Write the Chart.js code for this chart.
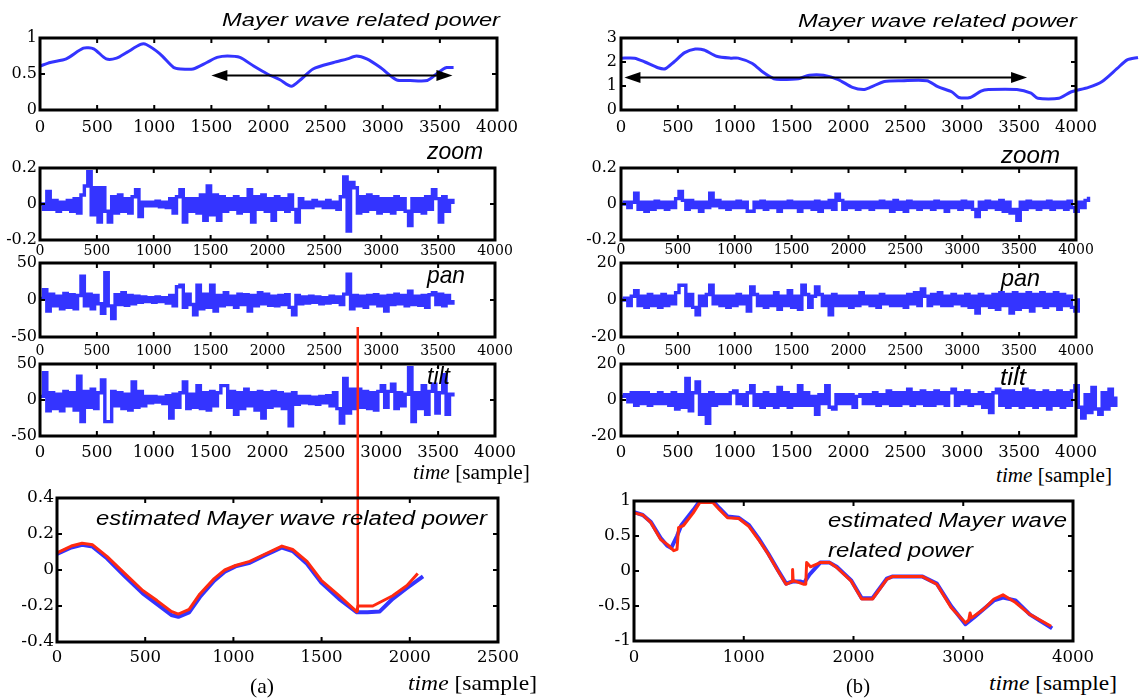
<!DOCTYPE html>
<html><head><meta charset="utf-8">
<script src="https://cdn.jsdelivr.net/npm/chart.js"></script>
<style>
html,body{margin:0;padding:0;background:#fff;}
body{width:1141px;height:699px;position:relative;overflow:hidden;}
canvas{position:absolute;}
.t{position:absolute;white-space:nowrap;transform-origin:0 0;color:#000;z-index:5;}
.sans{font-family:"Liberation Sans",Arial,sans-serif;font-style:italic;}
.serif{font-family:"Liberation Serif","Times New Roman",serif;}
</style></head><body>
<script>
// ---------------- DATA ----------------
const STEP = 30; // sample spacing of the noisy series

// (a) Mayer wave related power
const a1X = [0,90,230,380,470,580,670,760,880,930,1050,1170,1230,1340,1460,1550,1640,1750,1870,1990,2100,2200,2280,2390,2570,2690,2770,2860,2980,3120,3240,3390,3470,3530,3560,3620];
const a1Y = [0.61,0.66,0.71,0.86,0.85,0.71,0.72,0.80,0.91,0.91,0.78,0.59,0.57,0.57,0.66,0.73,0.75,0.73,0.61,0.50,0.42,0.33,0.42,0.57,0.66,0.71,0.75,0.71,0.59,0.42,0.41,0.41,0.50,0.57,0.59,0.59];
const a1Arrow = {x1:1500, x2:3610, y:0.48};

// (b) Mayer wave related power
const b1X = [0,120,210,325,390,465,560,653,730,840,965,1030,1155,1250,1345,1405,1560,1655,1780,1910,2035,2130,2190,2315,2470,2690,2785,2910,2970,3070,3165,3230,3480,3605,3665,3850,3955,4110,4230,4360,4450,4545];
const b1Y = [2.16,2.16,2.0,1.76,1.72,2.0,2.39,2.54,2.5,2.24,2.16,2.16,1.94,1.57,1.3,1.27,1.3,1.45,1.45,1.27,0.94,0.85,0.94,1.19,1.22,1.22,0.97,0.75,0.52,0.52,0.79,0.85,0.85,0.7,0.49,0.49,0.75,0.94,1.19,1.72,2.09,2.19];
const b1Arrow = {x1:30, x2:3570, y:1.35};

// (a) zoom / pan / tilt
const a2Zoom = [0.00,-0.03,0.07,-0.03,0.02,-0.04,0.01,-0.03,0.02,-0.04,
 0.03,-0.05,0.05,0.10,0.18,-0.06,0.09,-0.10,0.09,-0.04,
 -0.10,0.04,-0.05,0.05,-0.04,0.03,-0.05,0.04,0.08,-0.07,
 0.01,-0.01,0.01,-0.01,0.015,-0.015,0.01,-0.02,
 0.03,-0.05,0.04,0.08,-0.10,0.03,-0.04,
 0.03,-0.05,0.05,-0.09,0.10,-0.06,0.05,-0.09,0.04,-0.04,0.03,
 -0.03,0.04,-0.05,0.03,-0.04,0.08,-0.10,0.04,
 -0.03,0.05,-0.04,0.03,-0.09,0.04,-0.03,
 0.03,-0.04,0.05,-0.03,-0.10,0.03,
 -0.02,0.01,-0.02,0.02,-0.01,0.01,-0.02,0.02,-0.02,0.01,-0.03,
 0.04,0.15,-0.15,0.12,0.09,
 -0.05,0.04,-0.04,0.05,-0.03,0.04,-0.05,0.03,
 -0.04,0.03,-0.05,0.04,-0.03,0.03,-0.04,-0.12,0.03,-0.04,
 0.03,-0.05,0.04,-0.03,0.08,0.03,-0.10,0.04,-0.04,0.02,0.00];
const a3Pan = [2,14,-15,8,-8,5,-12,9,-10,7,
 -12,6,32,-8,8,-12,6,-5,-18,37,
 -8,-25,7,-6,10,-7,6,-5,5,-3,
 4,-2,3,-3,4,-2,3,-4,
 6,-8,18,20,-10,8,-6,
 -20,20,-12,8,-10,20,-15,6,-8,10,-6,
 5,-10,8,-6,7,-15,6,-8,
 10,-5,8,-7,5,-8,6,
 -6,7,-10,-20,6,-5,
 4,-4,5,-3,4,-5,3,-4,5,-3,4,
 -6,8,35,-12,6,
 -8,5,-10,6,-5,7,-8,5,
 -15,6,-6,8,-5,6,-8,12,-6,5,
 -7,6,-10,7,10,-6,8,-8,6,-4,0];
const a4Tilt = [5,38,-15,10,-12,8,-15,12,-8,10,
 -14,33,-30,12,-10,15,-12,10,28,-30,
 -30,12,-8,10,-12,8,-14,25,-10,12,
 -8,5,-4,5,-3,4,-5,6,
 -25,8,-10,10,25,-12,8,-10,
 20,-12,10,-14,12,-8,10,20,20,-10,
 12,-20,10,-12,15,-8,10,-14,12,
 -25,10,-10,12,-8,10,-12,8,-36,10,
 -6,5,-4,5,-5,4,-6,5,-4,6,-8,10,-12,
 -32,30,-18,15,-12,15,-10,12,-12,10,-14,12,
 20,-10,12,22,-12,10,-8,8,45,-30,
 10,-12,20,-20,12,22,-18,10,35,-20,8,5];

// (b) zoom / pan / tilt
const b2Zoom = [0.00,0.01,-0.02,0.01,0.06,-0.03,0.01,-0.04,0.01,-0.03,
 0.015,-0.02,0.01,-0.03,0.01,-0.02,0.03,0.07,0.02,-0.03,
 0.02,-0.02,0.01,-0.04,0.01,-0.02,0.06,-0.01,0.02,-0.02,
 0.01,-0.03,0.01,-0.02,0.015,-0.02,0.01,-0.04,-0.04,0.01,
 -0.02,0.015,-0.03,0.01,-0.02,0.01,-0.04,0.01,-0.02,0.015,
 -0.02,0.01,-0.04,0.01,-0.02,0.01,-0.03,0.015,-0.04,0.01,
 -0.02,0.02,-0.03,0.055,0.02,-0.03,0.01,-0.02,0.01,-0.03,
 0.01,-0.02,0.01,-0.03,0.01,-0.02,0.015,-0.02,0.01,-0.04,
 0.02,-0.03,0.01,-0.04,0.015,-0.02,0.01,-0.03,0.01,-0.02,
 0.01,-0.03,0.015,-0.02,0.01,-0.04,0.01,-0.02,0.01,-0.03,
 0.015,-0.02,0.01,-0.03,-0.07,0.01,-0.03,0.015,-0.02,0.01,
 -0.03,0.02,-0.04,0.01,-0.05,-0.03,-0.09,0.01,-0.03,0.015,
 -0.02,0.01,-0.03,0.01,-0.02,0.015,-0.03,0.01,-0.02,0.01,
 -0.03,0.015,-0.02,-0.04,0.01,-0.02,0.02,0.04];
const b3Pan = [0,1,-3,2,5,-3,2,-4,3,-3,
 2,-4,3,-3,2,-2,4,8,8,-3,
 3,-4,-8,2,-3,3,8,-2,2,-3,
 2,-4,2,-3,3,-2,2,-6,7,3,
 -3,2,-4,2,-3,4,-5,2,-3,5,
 -4,2,-5,8,3,-4,2,7,3,-3,
 2,-8,3,-3,2,-3,2,-4,2,-3,
 4,-2,2,-3,2,-4,3,-2,2,-3,
 2,-3,2,-4,3,-2,4,-3,6,2,
 -3,3,-2,4,-3,2,-3,3,-2,2,
 -3,3,-4,2,-7,3,-3,2,-4,3,
 -5,4,-3,3,-7,4,-5,3,-4,4,
 -6,3,-3,4,-4,3,-3,4,-5,3,
 -3,2,-4,-6,1];
const b4Tilt = [2,3,-1,4,-3,4,-2,4,-3,3,
 -2,4,-2,3,-3,4,-5,3,-4,12,
 -6,4,10,-8,3,-13,4,-3,3,-2,
 3,-2,4,5,-2,3,-3,4,8,-3,
 3,-4,4,-3,3,-4,7,-3,4,-4,
 3,-3,8,-3,4,-3,2,-8,3,-2,
 8,-4,-5,3,-2,3,-2,3,-4,2,
 3,-2,3,-2,4,-3,3,-2,5,-3,
 4,-3,4,-2,6,-3,4,-2,5,-3,
 4,-3,5,-2,4,-3,4,6,-3,4,
 -2,5,-3,3,-2,4,-4,3,-7,4,
 6,-3,5,-4,5,-3,4,-4,6,-3,
 5,-4,4,-3,5,-5,4,-3,5,-4,
 4,-3,5,8,-4,-10,3,-7,7,-5,
 -8,4,-5,6,-3,2];

// (a) estimated Mayer wave related power
const a5RedX  = [0,81,142,202,283,385,486,567,648,688,749,810,891,951,1012,1093,1174,1275,1336,1417,1498,1599,1700,1706,1790,1903,1984,2045];
const a5RedY  = [0.095,0.133,0.149,0.14,0.076,-0.02,-0.114,-0.17,-0.23,-0.245,-0.219,-0.133,-0.048,0,0.025,0.048,0.086,0.133,0.114,0.048,-0.057,-0.143,-0.232,-0.2,-0.2,-0.143,-0.086,-0.02];
const a5BlueX = [0,81,142,202,283,385,486,567,648,688,749,810,891,951,1012,1093,1174,1275,1336,1417,1498,1599,1700,1760,1830,1903,1984,2075];
const a5BlueY = [0.09,0.125,0.14,0.13,0.065,-0.035,-0.13,-0.19,-0.25,-0.26,-0.235,-0.15,-0.06,-0.01,0.02,0.04,0.08,0.125,0.105,0.035,-0.07,-0.16,-0.235,-0.235,-0.23,-0.16,-0.1,-0.035];
const markerX = [1705,1705];      // red marker line (sample)
const markerY = [-0.232,1.35];    // from the estimate up into the pan panel

// (b) estimated Mayer wave related power
const b5RedX  = [0,80,154,243,303,362,392,406,451,540,600,718,777,852,955,1045,1134,1223,1312,1386,1440,1445,1450,1460,1549,1565,1573,1608,1697,1782,1847,1977,2075,2173,2303,2352,2629,2759,2889,3020,3050,3062,3075,3182,3280,3362,3476,3606,3801];
const b5RedY  = [0.83,0.8,0.69,0.45,0.38,0.29,0.31,0.62,0.65,0.83,0.98,0.98,0.88,0.76,0.75,0.64,0.45,0.24,0,-0.19,-0.15,0.02,-0.14,-0.14,-0.19,-0.19,0.12,0.06,0.12,0.12,0.05,-0.14,-0.4,-0.4,-0.12,-0.08,-0.08,-0.19,-0.52,-0.74,-0.70,-0.6,-0.67,-0.55,-0.4,-0.34,-0.45,-0.62,-0.79];
const b5BlueX = [0,80,154,243,303,340,392,430,540,600,718,777,852,955,1045,1134,1223,1312,1386,1445,1520,1549,1600,1697,1782,1847,1977,2075,2173,2303,2352,2629,2759,2889,3020,3100,3182,3280,3362,3476,3606,3810];
const b5BlueY = [0.84,0.8,0.7,0.47,0.36,0.33,0.5,0.65,0.87,1.0,1.0,0.9,0.78,0.76,0.66,0.47,0.25,0.01,-0.18,-0.15,-0.15,-0.17,-0.05,0.12,0.12,0.06,-0.13,-0.39,-0.39,-0.11,-0.08,-0.08,-0.18,-0.5,-0.76,-0.66,-0.55,-0.42,-0.38,-0.42,-0.62,-0.82];

// tick labels
const xTicks4000 = [0,500,1000,1500,2000,2500,3000,3500,4000];
const xTicks2500 = [0,500,1000,1500,2000,2500];
const xTicks4000k = [0,1000,2000,3000,4000];
const yTicksA1 = [0,0.5,1];
const yTicksB1 = [0,1,2,3];
const yTicksZoom = [-0.2,0,0.2];
const yTicks50 = [-50,0,50];
const yTicks20 = [-20,0,20];
const yTicksA5 = [-0.4,-0.2,0,0.2,0.4];
const yTicksB5 = [-1,-0.5,0,0.5,1];

// ---------------- RENDER ----------------
const BLUE = '#3434ff', RED = '#ff2a10';
const xy = (xs, ys) => xs.map((x, i) => ({x, y: ys[i]}));
const held = vals => vals.map((v, i) => ({x: i * STEP, y: v}));
const fmt = v => String(Math.round(v * 1000) / 1000);

const framePlugin = {
  id: 'frame',
  afterDatasetsDraw(chart) {
    const {ctx, chartArea: a, scales: {x, y}} = chart;
    ctx.save();
    ctx.strokeStyle = '#000';
    ctx.lineWidth = 2;
    const tl = 5;
    ctx.beginPath();
    x.ticks.forEach(t => {
      const px = x.getPixelForValue(t.value);
      ctx.moveTo(px, a.bottom); ctx.lineTo(px, a.bottom - tl);
      ctx.moveTo(px, a.top); ctx.lineTo(px, a.top + tl);
    });
    y.ticks.forEach(t => {
      const py = y.getPixelForValue(t.value);
      ctx.moveTo(a.left, py); ctx.lineTo(a.left + tl, py);
      ctx.moveTo(a.right, py); ctx.lineTo(a.right - tl, py);
    });
    ctx.stroke();
    ctx.lineWidth = 3;
    ctx.strokeRect(a.left, a.top, a.right - a.left, a.bottom - a.top);
    ctx.restore();
  }
};
const arrowPlugin = {
  id: 'arrows',
  afterDatasetsDraw(chart, args, opts) {
    const list = (opts && opts.list) || [];
    const {ctx, scales: {x, y}} = chart;
    list.forEach(ar => {
      const x1 = x.getPixelForValue(ar.x1), x2 = x.getPixelForValue(ar.x2), py = y.getPixelForValue(ar.y);
      const hl = 16, hw = 5.5;
      ctx.save();
      ctx.strokeStyle = '#000'; ctx.fillStyle = '#000'; ctx.lineWidth = 2;
      ctx.beginPath(); ctx.moveTo(x1 + hl - 2, py); ctx.lineTo(x2 - hl + 2, py); ctx.stroke();
      ctx.beginPath(); ctx.moveTo(x1, py); ctx.lineTo(x1 + hl, py - hw); ctx.lineTo(x1 + hl, py + hw); ctx.closePath(); ctx.fill();
      ctx.beginPath(); ctx.moveTo(x2, py); ctx.lineTo(x2 - hl, py - hw); ctx.lineTo(x2 - hl, py + hw); ctx.closePath(); ctx.fill();
      ctx.restore();
    });
  }
};

function makePanel(p) {
  const [L, T, R, B] = p.box, [pl, pt, pr, pb] = p.pad;
  const w = R - L + pl + pr, h = B - T + pt + pb;
  const c = document.createElement('canvas');
  c.width = w; c.height = h;
  c.style.left = (L - pl) + 'px'; c.style.top = (T - pt) + 'px';
  c.style.width = w + 'px'; c.style.height = h + 'px';
  document.body.appendChild(c);
  return new Chart(c, {
    type: 'line',
    data: {datasets: p.datasets.map(d => Object.assign({borderWidth: 3, pointRadius: 0, fill: false, tension: 0, borderJoinStyle: 'round'}, d))},
    options: {
      responsive: false, maintainAspectRatio: false, animation: false, devicePixelRatio: 1, events: [],
      layout: {padding: {left: 0, top: pt, right: pr, bottom: 0}},
      plugins: {legend: {display: false}, tooltip: {enabled: false}, arrows: {list: p.arrows || []}},
      scales: {
        x: {type: 'linear', bounds: 'data',
            // range set after data limits so that points beyond the axis end are still drawn
            afterDataLimits: s => { s.min = p.xr[0]; s.max = p.xr[1]; },
            grid: {display: false, drawTicks: false}, border: {display: false},
            afterBuildTicks: s => { s.ticks = p.xt.map(v => ({value: v})); },
            afterFit: s => { s.height = pb; },
            ticks: {autoSkip: false, maxRotation: 0, minRotation: 0, color: '#000', padding: p.xpad,
                    font: {family: 'DejaVu Serif', size: p.xfs}, callback: fmt}},
        y: {type: 'linear', min: p.yr[0], max: p.yr[1],
            grid: {display: false, drawTicks: false}, border: {display: false},
            afterBuildTicks: s => { s.ticks = p.yt.map(v => ({value: v})); },
            afterFit: s => { s.width = pl; },
            ticks: {color: '#000', padding: p.ypad || 3, font: {family: 'DejaVu Serif', size: p.yfs}, callback: fmt}}
      }
    },
    plugins: [framePlugin, arrowPlugin]
  });
}

const noise = (vals, extra) => Object.assign({data: held(vals), borderColor: BLUE, borderWidth: 3.4, stepped: true, borderJoinStyle: 'miter'}, extra || {});

// left column (a)
makePanel({box: [40, 38, 497, 110], pad: [40, 14, 30, 30], xr: [0, 4000], yr: [0, 1], xt: xTicks4000, yt: yTicksA1,
  xfs: 16.5, yfs: 16, xpad: 8, arrows: [a1Arrow],
  datasets: [{data: xy(a1X, a1Y), borderColor: BLUE, tension: 0.25}]});
makePanel({box: [40, 168, 495, 240], pad: [40, 14, 30, 24], xr: [0, 4000], yr: [-0.2, 0.2], xt: xTicks4000, yt: yTicksZoom,
  xfs: 14, yfs: 16, xpad: 3,
  datasets: [noise(a2Zoom)]});
makePanel({box: [40, 263, 495, 337], pad: [40, 14, 30, 24], xr: [0, 4000], yr: [-50, 50], xt: xTicks4000, yt: yTicks50,
  xfs: 14, yfs: 16, xpad: 6,
  datasets: [noise(a3Pan)]});
makePanel({box: [40, 364, 495, 436], pad: [40, 14, 30, 28], xr: [0, 4000], yr: [-50, 50], xt: xTicks4000, yt: yTicks50,
  xfs: 16.5, yfs: 16, xpad: 7,
  datasets: [noise(a4Tilt)]});
makePanel({box: [57, 498, 498, 642], pad: [57, 180, 30, 30], xr: [0, 2500], yr: [-0.4, 0.4], xt: xTicks2500, yt: yTicksA5,
  xfs: 16.5, yfs: 17, xpad: 6,
  datasets: [
    {data: xy(markerX, markerY), borderColor: RED, borderWidth: 2.5, clip: false},
    {data: xy(a5RedX, a5RedY), borderColor: RED},
    {data: xy(a5BlueX, a5BlueY), borderColor: BLUE, borderWidth: 4}
  ]});

// right column (b)
makePanel({box: [621, 38, 1076, 110], pad: [45, 14, 65, 30], xr: [0, 4000], yr: [0, 3], xt: xTicks4000, yt: yTicksB1,
  xfs: 16.5, yfs: 16, xpad: 8, ypad: 4, arrows: [b1Arrow],
  datasets: [{data: xy(b1X, b1Y), borderColor: BLUE, tension: 0.25, clip: false}]});
makePanel({box: [621, 168, 1076, 240], pad: [45, 14, 40, 24], xr: [0, 4000], yr: [-0.2, 0.2], xt: xTicks4000, yt: yTicksZoom,
  xfs: 14, yfs: 16, xpad: 2, ypad: 4,
  datasets: [noise(b2Zoom, {clip: false})]});
makePanel({box: [621, 263, 1076, 337], pad: [45, 14, 30, 24], xr: [0, 4000], yr: [-20, 20], xt: xTicks4000, yt: yTicks20,
  xfs: 14, yfs: 16, xpad: 6, ypad: 4,
  datasets: [noise(b3Pan, {clip: false})]});
makePanel({box: [621, 364, 1076, 436], pad: [45, 14, 55, 28], xr: [0, 4000], yr: [-20, 20], xt: xTicks4000, yt: yTicks20,
  xfs: 16.5, yfs: 16, xpad: 7, ypad: 4,
  datasets: [noise(b4Tilt, {clip: false})]});
makePanel({box: [634, 501, 1073, 641], pad: [50, 14, 30, 30], xr: [0, 4000], yr: [-1, 1], xt: xTicks4000k, yt: yTicksB5,
  xfs: 16.5, yfs: 17, xpad: 7,
  datasets: [
    {data: xy(b5RedX, b5RedY), borderColor: RED},
    {data: xy(b5BlueX, b5BlueY), borderColor: BLUE, borderWidth: 4}
  ]});

// ---------------- TEXT ----------------
const texts = [
  {h: 'Mayer wave related power', c: 'sans', s: 18.5, l: 222, r: 500, b: 27},
  {h: 'Mayer wave related power', c: 'sans', s: 18.5, l: 798, r: 1077, b: 28},
  {h: 'zoom', c: 'sans', s: 24, l: 427, r: 483, b: 159},
  {h: 'zoom', c: 'sans', s: 24, l: 1001, r: 1060, b: 163},
  {h: 'pan', c: 'sans', s: 24, l: 427, r: 465, b: 283},
  {h: 'pan', c: 'sans', s: 24, l: 1001, r: 1040, b: 286},
  {h: 'tilt', c: 'sans', s: 24, l: 427, r: 450, b: 384},
  {h: 'tilt', c: 'sans', s: 24, l: 1000, r: 1026, b: 385},
  {h: 'estimated Mayer wave related power', c: 'sans', s: 20, l: 96, r: 487, b: 525},
  {h: 'estimated Mayer wave', c: 'sans', s: 20, l: 828, r: 1067, b: 527},
  {h: 'related power', c: 'sans', s: 20, l: 828, r: 973, b: 557},
  {h: '<i>time</i> [sample]', c: 'serif', s: 20, l: 413, r: 530, b: 479},
  {h: '<i>time</i> [sample]', c: 'serif', s: 20, l: 996, r: 1112, b: 482},
  {h: '<i>time</i> [sample]', c: 'serif', s: 21, l: 408, r: 537, b: 691},
  {h: '<i>time</i> [sample]', c: 'serif', s: 21, l: 989, r: 1117, b: 691},
  {h: '(a)', c: 'serif', s: 21, l: 250, r: 274, b: 694},
  {h: '(b)', c: 'serif', s: 21, l: 846, r: 870, b: 694}
];
texts.forEach(t => {
  const d = document.createElement('div');
  d.className = 't ' + t.c;
  d.innerHTML = t.h;
  d.style.fontSize = t.s + 'px';
  d.style.lineHeight = t.s + 'px';
  d.style.left = t.l + 'px';
  d.style.top = (t.b - (t.c === 'sans' ? 0.8465 : 0.8375) * t.s) + 'px';
  document.body.appendChild(d);
  const w = d.getBoundingClientRect().width;
  d.style.transform = 'scaleX(' + ((t.r - t.l) / w) + ')';
});
</script>
</body></html>
